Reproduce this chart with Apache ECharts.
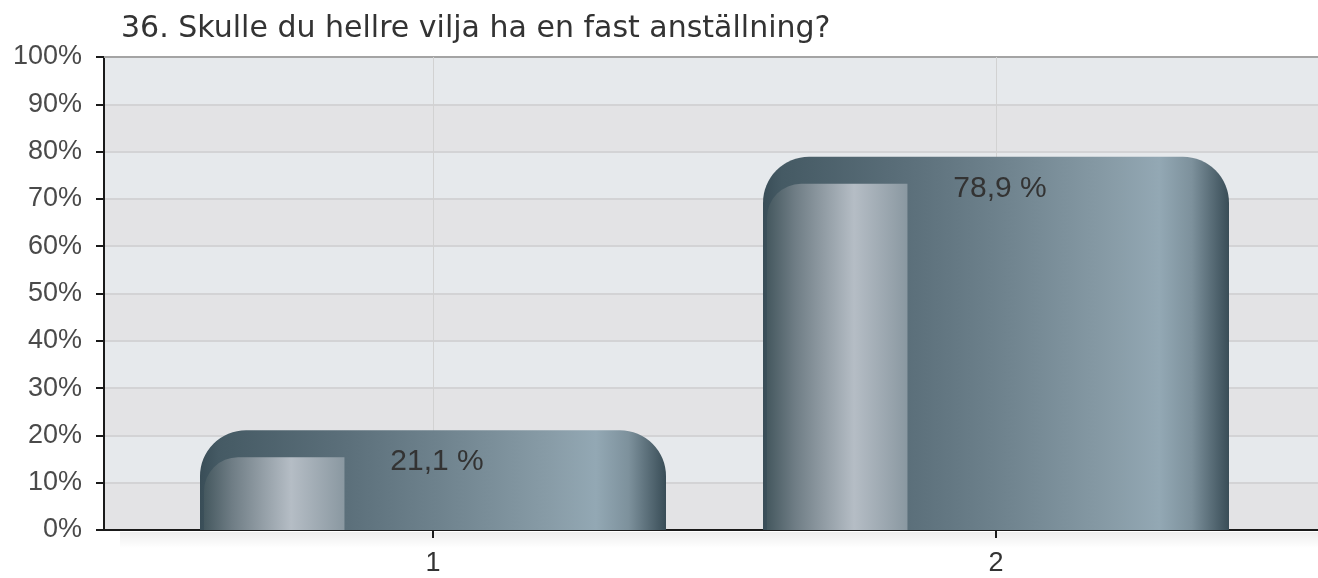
<!DOCTYPE html>
<html>
<head>
<meta charset="utf-8">
<script src="https://cdn.jsdelivr.net/npm/echarts@6/dist/echarts.min.js"></script>
<style>
html,body{margin:0;padding:0;background:#fff;}
#chart{width:1318px;height:578px;}
</style>
</head>
<body>
<div id="chart"></div>
<script>
const titleText = '36. Skulle du hellre vilja ha en fast anställning?';
const categories = ['1', '2'];
const values = [21.1, 78.9];
const valueLabels = ['21,1 %', '78,9 %'];
const yMin = 0, yMax = 100, yStep = 10;

const FONT = 'Liberation Sans, Arial, Helvetica, sans-serif';
const TFONT = 'DejaVu Sans, Verdana, sans-serif';
const chart = echarts.init(document.getElementById('chart'));
const G = echarts.graphic.LinearGradient;

const outerGrad = () => new G(0, 0, 1, 0, [
  {offset: 0, color: '#394d57'},
  {offset: 0.04, color: '#455a64'},
  {offset: 0.31, color: '#5b6f7a'},
  {offset: 0.5, color: '#6d818c'},
  {offset: 0.75, color: '#889ca7'},
  {offset: 0.85, color: '#93a8b4'},
  {offset: 0.92, color: '#7d919c'},
  {offset: 1, color: '#394d57'}
]);
const innerGrad = () => new G(0, 0, 1, 0, [
  {offset: 0, color: '#45585f'},
  {offset: 0.2, color: '#6f7d85'},
  {offset: 0.62, color: '#b5bdc5'},
  {offset: 1, color: '#8a98a1'}
]);

const barData = categories.map((c, i) => [i, values[i]]);

const option = {
  animation: false,
  backgroundColor: '#fff',
  title: {
    text: titleText, left: 116, top: 9,
    textStyle: {fontFamily: TFONT, fontSize: 30, fontWeight: 'normal', color: '#333'}
  },
  grid: [
    {left: 104, right: 0, top: 57, bottom: 48},
    {left: 433, right: 322, top: 57, bottom: 48}
  ],
  xAxis: [
    {gridIndex: 0, type: 'value', min: 0, max: 1, position: 'bottom',
     axisLine: {show: true, lineStyle: {color: '#1a1a1a', width: 2}},
     axisTick: {show: false}, axisLabel: {show: false}, splitLine: {show: false}},
    {gridIndex: 0, type: 'value', min: 0, max: 1, position: 'top',
     axisLine: {show: true, lineStyle: {color: '#a4a4a4', width: 2}},
     axisTick: {show: false}, axisLabel: {show: false}, splitLine: {show: false}},
    {gridIndex: 1, type: 'category', data: categories, boundaryGap: false, z: 1,
     axisLine: {show: false},
     axisTick: {show: true, length: 8, lineStyle: {color: '#1a1a1a', width: 2}},
     axisLabel: {color: '#333', fontSize: 27, fontFamily: FONT, margin: 20},
     splitLine: {show: true, lineStyle: {color: '#d2d2d2', width: 1}}}
  ],
  yAxis: [
    {gridIndex: 0, type: 'value', min: yMin, max: yMax, interval: yStep, z: 0,
     axisLine: {show: true, lineStyle: {color: '#1a1a1a', width: 2}},
     axisTick: {show: true, length: 8, lineStyle: {color: '#1a1a1a', width: 2}},
     axisLabel: {formatter: '{value}%', color: '#4a4a4a', fontSize: 27, fontFamily: FONT, margin: 22},
     splitLine: {show: true, lineStyle: {color: '#d3d3d5', width: 2}},
     splitArea: {show: true, areaStyle: {color: ['#e3e3e5', '#e6e9ec']}}},
    {gridIndex: 1, type: 'value', min: yMin, max: yMax, show: false}
  ],
  graphic: [
    {type: 'rect', z: -1, shape: {x: 120, y: 532, width: 1198, height: 16},
     style: {fill: new G(0, 0, 0, 1, [{offset: 0, color: 'rgba(0,0,0,0.07)'}, {offset: 1, color: 'rgba(0,0,0,0)'}])}}
  ],
  series: [{
    type: 'custom',
    xAxisIndex: 2, yAxisIndex: 1,
    data: barData,
    encode: {x: 0, y: 1},
    z: 3,
    renderItem: function (params, api) {
      const idx = params.dataIndex;
      const topPt = api.coord([api.value(0), api.value(1)]);
      const basePt = api.coord([api.value(0), 0]);
      const w = 466;
      const left = topPt[0] - w / 2;
      const top = topPt[1];
      const h = basePt[1] - top;
      const iw = w * 0.31;
      return {
        type: 'group',
        children: [
          {type: 'rect', shape: {x: left, y: top, width: w, height: h, r: [46, 46, 0, 0]},
           style: {fill: outerGrad()}},
          {type: 'rect', shape: {x: left + 4, y: top + 27, width: iw - 4, height: h - 27, r: [34, 0, 0, 0]},
           style: {fill: innerGrad()}},
          {type: 'text', style: {text: valueLabels[idx], x: topPt[0] + 4, y: top + 32,
            align: 'center', verticalAlign: 'middle', fill: '#333',
            font: '30px ' + FONT}}
        ]
      };
    }
  }]
};
chart.setOption(option);
</script>
</body>
</html>
